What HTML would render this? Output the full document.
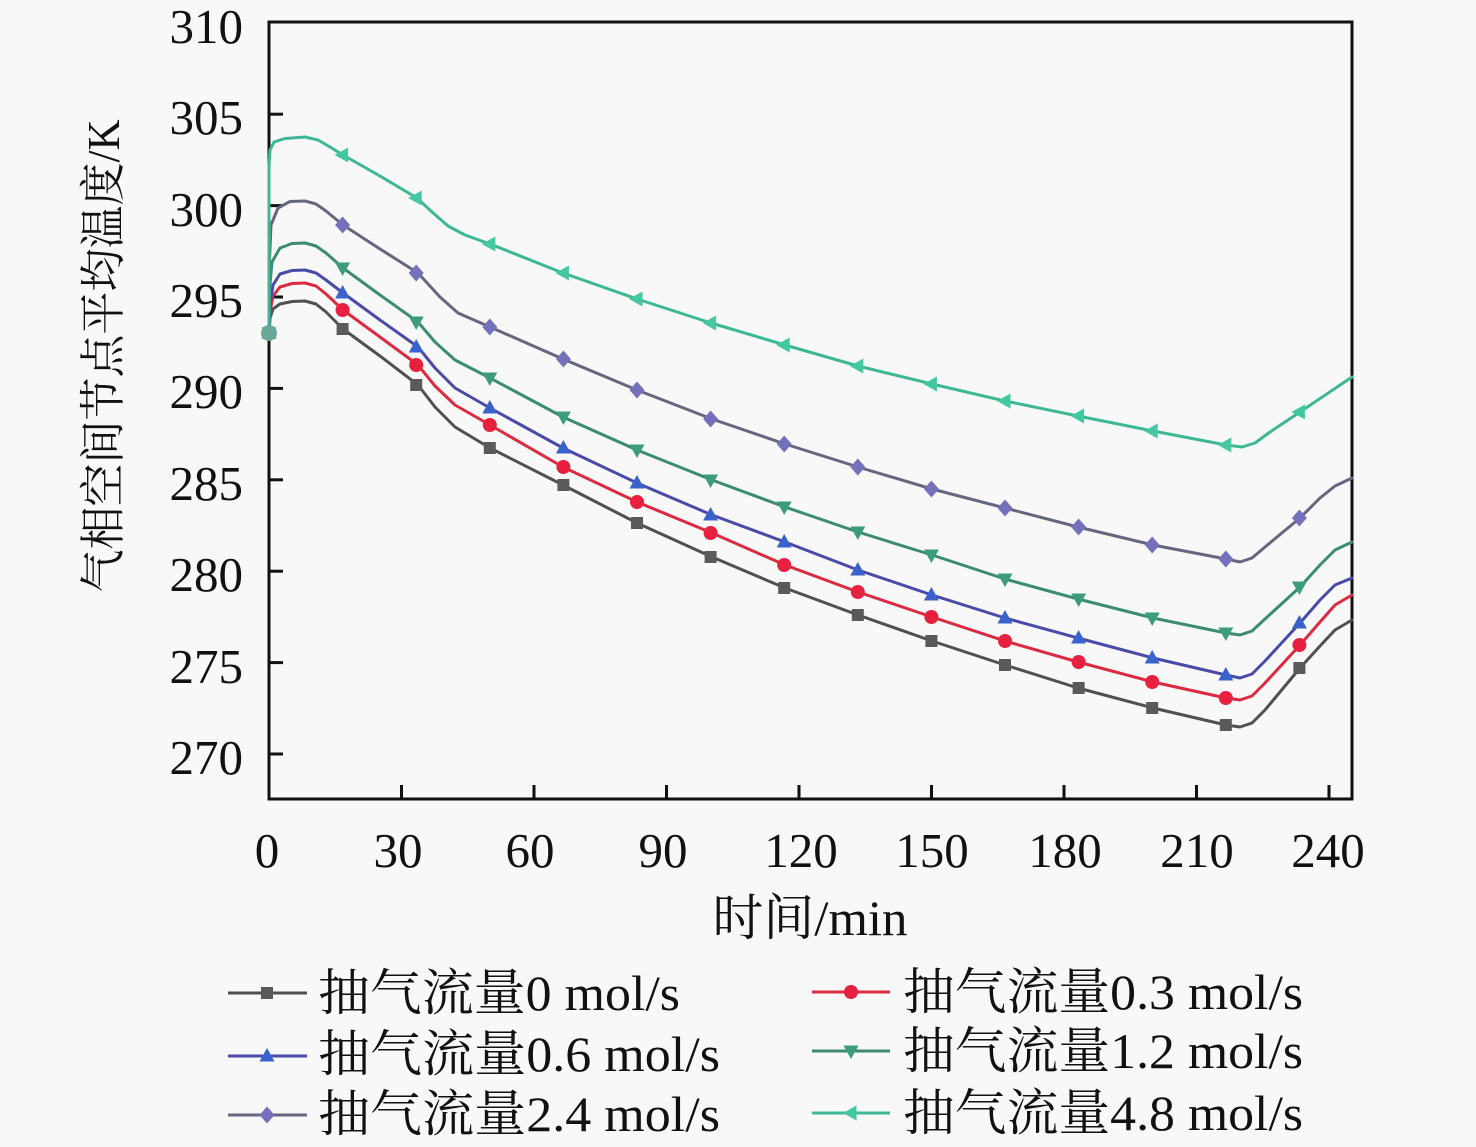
<!DOCTYPE html>
<html><head><meta charset="utf-8"><style>
html,body{margin:0;padding:0;background:#f8f8f8;}
svg{display:block;}
text{font-family:"Liberation Serif","Noto Serif CJK SC","Noto Sans CJK SC",serif;fill:#111;}
</style></head><body>
<svg width="1476" height="1147" viewBox="0 0 1476 1147" xmlns="http://www.w3.org/2000/svg">
<defs>
<rect id="sq" x="-6" y="-6" width="12" height="12" fill="#5a5a5a"/>
<circle id="ci" r="7" fill="#e82040"/>
<polygon id="tu" points="0,-8 7.5,5.5 -7.5,5.5" fill="#3a62cc"/>
<polygon id="td" points="0,8 7.5,-5.5 -7.5,-5.5" fill="#3c9c7c"/>
<polygon id="di" points="0,-8.5 7.5,0 0,8.5 -7.5,0" fill="#7470bc"/>
<polygon id="tl" points="-8,0 5.5,-7.5 5.5,7.5" fill="#44c8a0"/>
</defs>
<rect width="1476" height="1147" fill="#f8f8f8"/>

<!-- axes box -->
<rect x="269" y="22" width="1083" height="777" fill="none" stroke="#111" stroke-width="3"/>
<!-- y ticks -->
<g stroke="#111" stroke-width="3">
<line x1="269" y1="754" x2="283" y2="754"/>
<line x1="269" y1="662.6" x2="283" y2="662.6"/>
<line x1="269" y1="571.2" x2="283" y2="571.2"/>
<line x1="269" y1="479.8" x2="283" y2="479.8"/>
<line x1="269" y1="388.4" x2="283" y2="388.4"/>
<line x1="269" y1="297" x2="283" y2="297"/>
<line x1="269" y1="205.6" x2="283" y2="205.6"/>
<line x1="269" y1="114.2" x2="283" y2="114.2"/>
<!-- x ticks -->
<line x1="401.5" y1="785" x2="401.5" y2="799"/>
<line x1="534" y1="785" x2="534" y2="799"/>
<line x1="666.5" y1="785" x2="666.5" y2="799"/>
<line x1="799" y1="785" x2="799" y2="799"/>
<line x1="931.5" y1="785" x2="931.5" y2="799"/>
<line x1="1064" y1="785" x2="1064" y2="799"/>
<line x1="1196.5" y1="785" x2="1196.5" y2="799"/>
<line x1="1329" y1="785" x2="1329" y2="799"/>
</g>

<!-- y tick labels -->
<g font-size="49" text-anchor="end">
<text x="243" y="774">270</text>
<text x="243" y="683">275</text>
<text x="243" y="591">280</text>
<text x="243" y="500">285</text>
<text x="243" y="408">290</text>
<text x="243" y="317">295</text>
<text x="243" y="226">300</text>
<text x="243" y="134">305</text>
<text x="243" y="43">310</text>
</g>
<!-- x tick labels -->
<g font-size="49" text-anchor="middle">
<text x="267" y="867">0</text>
<text x="398" y="867">30</text>
<text x="530" y="867">60</text>
<text x="663" y="867">90</text>
<text x="801" y="867">120</text>
<text x="932" y="867">150</text>
<text x="1065" y="867">180</text>
<text x="1197" y="867">210</text>
<text x="1328" y="867">240</text>
</g>

<!-- axis titles -->
<text x="810" y="935" font-size="50" text-anchor="middle" textLength="195" lengthAdjust="spacingAndGlyphs">时间/min</text>
<text transform="translate(119,356) rotate(-90)" font-size="46" text-anchor="middle" textLength="473" lengthAdjust="spacingAndGlyphs">气相空间节点平均温度/K</text>

<!-- series lines -->
<g fill="none" stroke-width="3" stroke-linejoin="round" stroke-linecap="round">
<polyline stroke="#505050" points="269,333 270,318 273,309 280,304 292,301.5 305,301 316,304 326,312 343,329 380,356 418,385 435,407 455,427 490,448 563,485 637,523 712,557 785,588 858,615 932,641 1005,665 1078,688 1153,708 1226,725 1240,727 1252,723 1265,710 1300,668 1320,646 1335,630 1352,620"/>
<polyline stroke="#dc2a40" points="269,333 270,312 273,296 280,287 292,283.5 305,283 316,286 326,294 343,310 380,337 418,365 435,386 455,405 490,425 563,467 637,502 712,533 785,565 858,592 932,617 1005,641 1078,662 1153,682 1226,698 1240,700 1252,696 1265,683 1300,645 1320,622 1335,605 1352,595"/>
<polyline stroke="#4a4aa8" points="269,333 270,305 273,285 280,274 292,270.5 305,270 316,273 326,280 343,293 380,320 418,347 435,368 455,388 490,408 563,448 637,483 712,515 785,542 858,570 932,595 1005,618 1078,638 1153,658 1226,675 1240,678 1252,674 1265,661 1300,623 1320,600 1335,585 1352,578"/>
<polyline stroke="#3c8c72" points="269,333 269.5,290 272,262 280,248 292,243.5 305,243 316,246 326,253 343,268 380,295 418,322 435,342 455,360 490,378 563,417 637,450 712,480 785,507 858,532 932,555 1005,579 1078,599 1153,618 1226,633 1240,635 1252,631 1265,619 1300,587 1320,565 1335,550 1352,542"/>
<polyline stroke="#66667e" points="269,333 269.5,260 271,225 278,208 290,201.5 305,201 316,204 326,211 343,225 380,249 418,273 440,297 458,313 490,327 563,359 637,390 712,419 785,444 858,467 932,489 1005,508 1078,527 1153,545 1226,559 1240,562 1252,558 1265,547 1300,518 1320,498 1335,486 1352,478"/>
<polyline stroke="#3eb892" points="269,333 269,165 270,150 274,142 285,138.5 305,137 318,140 330,147 343,155 380,176 417,198 432,212 448,226 465,235 490,244 563,273 637,299 711,323 785,345 858,366 932,384 1005,401 1078,416 1153,431 1226,445 1242,447 1255,443 1270,432 1300,412 1352,377"/>
</g>

<!-- markers -->
<g>
<use href="#sq" x="342.6" y="329"/><use href="#sq" x="416.2" y="385"/><use href="#sq" x="489.8" y="448"/><use href="#sq" x="563.4" y="485"/><use href="#sq" x="637" y="523"/><use href="#sq" x="710.6" y="557"/><use href="#sq" x="784.2" y="588"/><use href="#sq" x="857.8" y="615"/><use href="#sq" x="931.4" y="641"/><use href="#sq" x="1005" y="665"/><use href="#sq" x="1078.6" y="688"/><use href="#sq" x="1152.2" y="708"/><use href="#sq" x="1225.8" y="725"/><use href="#sq" x="1299.4" y="668"/>
<use href="#ci" x="342.6" y="310"/><use href="#ci" x="416.2" y="365"/><use href="#ci" x="489.8" y="425"/><use href="#ci" x="563.4" y="467"/><use href="#ci" x="637" y="502"/><use href="#ci" x="710.6" y="533"/><use href="#ci" x="784.2" y="565"/><use href="#ci" x="857.8" y="592"/><use href="#ci" x="931.4" y="617"/><use href="#ci" x="1005" y="641"/><use href="#ci" x="1078.6" y="662"/><use href="#ci" x="1152.2" y="682"/><use href="#ci" x="1225.8" y="698"/><use href="#ci" x="1299.4" y="645"/>
<use href="#tu" x="342.6" y="293"/><use href="#tu" x="416.2" y="347"/><use href="#tu" x="489.8" y="408"/><use href="#tu" x="563.4" y="448"/><use href="#tu" x="637" y="483"/><use href="#tu" x="710.6" y="515"/><use href="#tu" x="784.2" y="542"/><use href="#tu" x="857.8" y="570"/><use href="#tu" x="931.4" y="595"/><use href="#tu" x="1005" y="618"/><use href="#tu" x="1078.6" y="638"/><use href="#tu" x="1152.2" y="658"/><use href="#tu" x="1225.8" y="675"/><use href="#tu" x="1299.4" y="623"/>
<use href="#td" x="342.6" y="268"/><use href="#td" x="416.2" y="322"/><use href="#td" x="489.8" y="378"/><use href="#td" x="563.4" y="417"/><use href="#td" x="637" y="450"/><use href="#td" x="710.6" y="480"/><use href="#td" x="784.2" y="507"/><use href="#td" x="857.8" y="532"/><use href="#td" x="931.4" y="555"/><use href="#td" x="1005" y="579"/><use href="#td" x="1078.6" y="599"/><use href="#td" x="1152.2" y="618"/><use href="#td" x="1225.8" y="633"/><use href="#td" x="1299.4" y="587"/>
<use href="#di" x="342.6" y="225"/><use href="#di" x="416.2" y="273"/><use href="#di" x="489.8" y="327"/><use href="#di" x="563.4" y="359"/><use href="#di" x="637" y="390"/><use href="#di" x="710.6" y="419"/><use href="#di" x="784.2" y="444"/><use href="#di" x="857.8" y="467"/><use href="#di" x="931.4" y="489"/><use href="#di" x="1005" y="508"/><use href="#di" x="1078.6" y="527"/><use href="#di" x="1152.2" y="545"/><use href="#di" x="1225.8" y="559"/><use href="#di" x="1299.4" y="518"/>
<use href="#tl" x="342.6" y="155"/><use href="#tl" x="416.2" y="198"/><use href="#tl" x="489.8" y="244"/><use href="#tl" x="563.4" y="273"/><use href="#tl" x="637" y="299"/><use href="#tl" x="710.6" y="323"/><use href="#tl" x="784.2" y="345"/><use href="#tl" x="857.8" y="366"/><use href="#tl" x="931.4" y="384"/><use href="#tl" x="1005" y="401"/><use href="#tl" x="1078.6" y="416"/><use href="#tl" x="1152.2" y="431"/><use href="#tl" x="1225.8" y="445"/><use href="#tl" x="1299.4" y="412"/>
<!-- start markers -->
<use href="#sq" x="269" y="333"/><use href="#ci" x="269" y="333"/><use href="#tu" x="269" y="333"/><use href="#td" x="269" y="333"/><use href="#di" x="269" y="333"/>
<circle cx="269" cy="333" r="8" fill="#6aa898"/>
</g>

<!-- legend -->
<g stroke-width="3">
<line x1="228" y1="993" x2="307" y2="993" stroke="#505050"/>
<line x1="228" y1="1056" x2="307" y2="1056" stroke="#4a4aa8"/>
<line x1="228" y1="1115" x2="307" y2="1115" stroke="#66667e"/>
<line x1="812" y1="992" x2="890" y2="992" stroke="#dc2a40"/>
<line x1="812" y1="1051" x2="890" y2="1051" stroke="#3c8c72"/>
<line x1="812" y1="1113" x2="890" y2="1113" stroke="#3eb892"/>
</g>
<use href="#sq" x="267" y="993"/>
<use href="#tu" x="267" y="1056"/>
<use href="#di" x="267" y="1115"/>
<use href="#ci" x="851" y="992"/>
<use href="#td" x="851" y="1051"/>
<use href="#tl" x="851" y="1113"/>
<g font-size="50">
<text x="318" y="1010" textLength="362" lengthAdjust="spacingAndGlyphs">抽气流量0 mol/s</text>
<text x="318" y="1071" textLength="402" lengthAdjust="spacingAndGlyphs">抽气流量0.6 mol/s</text>
<text x="318" y="1131" textLength="402" lengthAdjust="spacingAndGlyphs">抽气流量2.4 mol/s</text>
<text x="903" y="1009" textLength="400" lengthAdjust="spacingAndGlyphs">抽气流量0.3 mol/s</text>
<text x="903" y="1068" textLength="400" lengthAdjust="spacingAndGlyphs">抽气流量1.2 mol/s</text>
<text x="903" y="1130" textLength="400" lengthAdjust="spacingAndGlyphs">抽气流量4.8 mol/s</text>
</g>
</svg>
</body></html>
